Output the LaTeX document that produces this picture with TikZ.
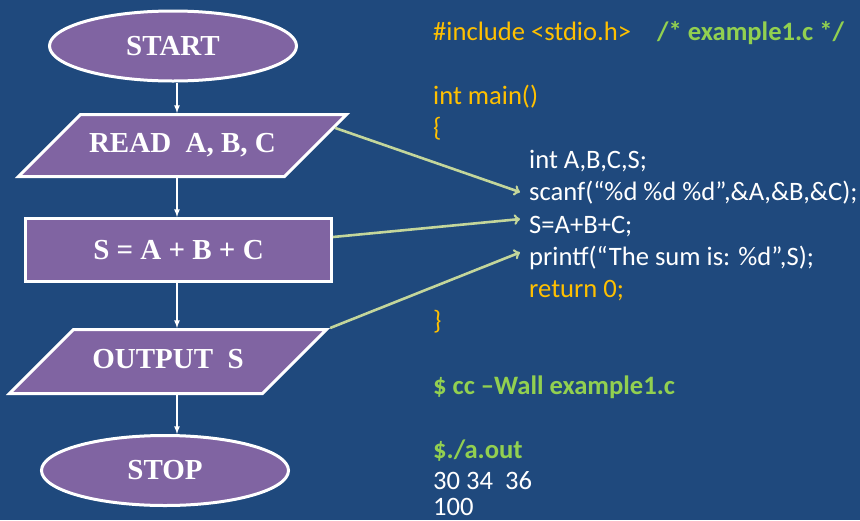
\documentclass[tikz,border=0pt]{standalone}
\usepackage{fontspec}
\setmainfont{Liberation Serif}
\newfontfamily\codefont{Carlito}
\usetikzlibrary{arrows}
\usetikzlibrary{shapes.geometric}
\usetikzlibrary{calc}

\definecolor{slideblue}{RGB}{31,73,125}
\definecolor{boxpurple}{RGB}{128,100,162}
\definecolor{linkgreen}{RGB}{195,214,155}
\definecolor{codeorange}{RGB}{255,192,0}
\definecolor{codegreen}{RGB}{146,208,80}

\tikzset{
  flow/.style={draw=white, line width=3pt, fill=boxpurple, text=white,
    font=\fontsize{29}{31}\selectfont\bfseries, inner sep=0pt},
  terminal/.style={flow, ellipse, minimum width=247pt, minimum height=70pt},
  io/.style={flow, trapezium, trapezium left angle=45, trapezium right angle=135,
    trapezium stretches body=true, text height=20pt, text depth=6pt},
  process/.style={flow, rectangle, minimum width=306pt, minimum height=63pt},
  flowline/.style={draw=white, line width=1.6pt, -latex},
  link/.style={draw=linkgreen, line width=2.6pt, ->},
  code/.style={anchor=base west, inner sep=0pt, text=white,
    font=\codefont\fontsize{26.6}{30}\selectfont},
  codebold/.style={code, text=codegreen, font=\codefont\fontsize{26.6}{30}\selectfont\bfseries},
}

\begin{document}
\begin{tikzpicture}[x=1pt,y=-1pt]
\fill[slideblue] (0,0) rectangle (860,520);
\useasboundingbox (0,0) rectangle (860,520);
\coordinate (spine) at (177,0);

% flowchart
\node[terminal] (start) at (173,46) {START};
\node[io, inner ysep=18pt, minimum width=328pt] (read) at (182.5,145.5) {READ\ \ A, B, C};
\node[process] (sum) at (178.5,250) {S = A + B + C};
\node[io, inner ysep=19pt, minimum width=317pt] (output) at (168,361.5) {OUTPUT\ \ S};
\node[terminal] (stop) at (165,470.5) {STOP};

\draw[flowline] (start.south -| spine) -- (read.north -| spine);
\draw[flowline] (read.south -| spine) -- (sum.north -| spine);
\draw[flowline] (sum.south -| spine) -- (output.north -| spine);
\draw[flowline] (output.south -| spine) -- (stop.north -| spine);

% program text
\node[code, text=codeorange] (include) at (433,40) {\#include <stdio.h>};
\node[codebold] (comment) at (657,40) {/* example1.c */};
\node[code, text=codeorange] (main) at (433,104) {int main()};
\node[code, text=codeorange] (open) at (433,136) {\{};
\node[code] (decl) at (529,168) {int A,B,C,S;};
\node[code] (scanf) at (529,200) {scanf(“\%d \%d \%d”,\&A,\&B,\&C);};
\node[code] (sumline) at (529,233) {S=A+B+C;};
\node[code] (printf) at (529,265) {printf(“The sum is: \%d”,S);};
\node[code, text=codeorange] (ret) at (529,297) {return 0;};
\node[code, text=codeorange] (close) at (433,329) {\}};
\node[codebold] (compile) at (433,394) {\$ cc –Wall example1.c};
\node[codebold] (run) at (433,458) {\$./a.out};
\node[code] (input) at (433,489) {30 34\ \ 36};
\node[code] (result) at (433,515) {100};

% links from chart to code
\draw[link] ($(read.top right corner)!0.23!(read.bottom right corner)$) -- ([xshift=-9pt]scanf.west);
\draw[link] ([yshift=13pt]sum.east) -- ([xshift=-9pt,yshift=7pt]sumline.west);
\draw[link] (output.top right corner) -- ([xshift=-9pt,yshift=5pt]printf.west);
\end{tikzpicture}
\end{document}
